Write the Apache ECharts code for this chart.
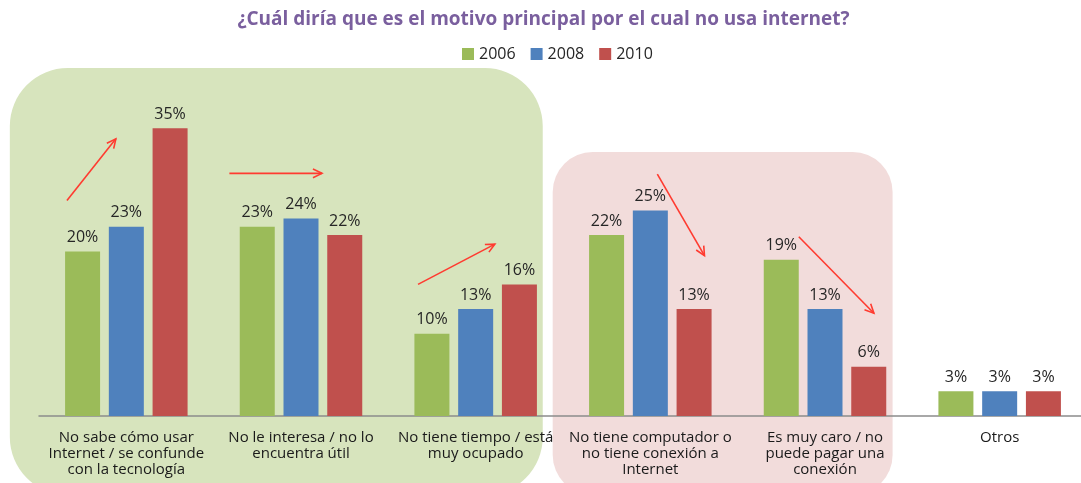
<!DOCTYPE html>
<html>
<head>
<meta charset="utf-8">
<script src="https://cdn.jsdelivr.net/npm/echarts@6/dist/echarts.min.js"></script>
<style>
  html, body { margin: 0; padding: 0; background: #fff; overflow: hidden; }
  #main { width: 1087px; height: 483px; }
</style>
</head>
<body>
<div id="main"></div>
<script>
// categorias y valores (%)
var categories = [
  'No sabe cómo usar\nInternet / se confunde\ncon la tecnología',
  'No le interesa / no lo\nencuentra útil',
  'No tiene tiempo / está\nmuy ocupado',
  'No tiene computador o\nno tiene conexión a\nInternet',
  'Es muy caro / no\npuede pagar una\nconexión',
  'Otros'
];
var years = ['2006', '2008', '2010'];
var v2006 = [20, 23, 10, 22, 19, 3];
var v2008 = [23, 24, 13, 25, 13, 3];
var v2010 = [35, 22, 16, 13, 6, 3];
var colors = ['#9bbb59', '#4f81bd', '#c0504d'];

// flechas de tendencia: [catDesde, valorDesde, catHasta, valorHasta]
var arrows = [
  [-0.34, 26.2, -0.06, 33.7],
  [0.59, 29.5, 1.12, 29.5],
  [1.67, 16.0, 2.11, 20.9],
  [3.04, 29.4, 3.31, 19.5],
  [3.85, 21.8, 4.28, 12.5]
];
// zonas de fondo: [catDesde, catHasta, valorTop, color, radio]
var zones = [
  [-0.667, 2.384, 42.3, '#d7e4bd', 58],
  [2.441, 4.387, 32.1, '#f2dcdb', 40]
];

var FONT = 'Open Sans';

var myChart = echarts.init(document.getElementById('main'));

function makeSeries(name, data, color) {
  return {
    name: name,
    type: 'bar',
    data: data,
    barWidth: 35,
    barGap: '25%',
    itemStyle: { color: color },
    label: {
      show: true,
      position: 'top',
      distance: 6,
      formatter: '{c}%',
      color: '#262626',
      fontFamily: FONT,
      fontSize: 16
    }
  };
}

var option = {
  backgroundColor: '#fff',
  animation: false,
  title: {
    text: '¿Cuál diría que es el motivo principal por el cual no usa internet?',
    left: 'center',
    top: 5,
    textStyle: { color: '#7a5f9e', fontFamily: FONT, fontWeight: 'bold', fontSize: 19 }
  },
  legend: {
    data: years,
    left: 457,
    top: 41,
    itemWidth: 12,
    itemHeight: 12,
    itemGap: 15,
    icon: 'rect',
    textStyle: { color: '#262626', fontFamily: FONT, fontSize: 16 }
  },
  grid: { left: 39, right: 0, top: 87, bottom: 67, containLabel: false },
  xAxis: {
    type: 'category',
    data: categories,
    axisTick: { show: false },
    axisLine: { lineStyle: { color: '#8c8c8c', width: 1.5 } },
    axisLabel: {
      interval: 0,
      margin: 14,
      color: '#1a1a1a',
      fontFamily: FONT,
      fontSize: 15,
      lineHeight: 16
    }
  },
  yAxis: {
    type: 'value',
    min: 0,
    max: 40,
    show: false,
    splitLine: { show: false }
  },
  series: [
    makeSeries(years[0], v2006, colors[0]),
    makeSeries(years[1], v2008, colors[1]),
    makeSeries(years[2], v2010, colors[2])
  ]
};
myChart.setOption(option);

// posicion en pixeles para categoria fraccional
function toPx(cat, val) {
  var a = myChart.convertToPixel({ gridIndex: 0 }, [0, val]);
  var b = myChart.convertToPixel({ gridIndex: 0 }, [1, val]);
  var step = b[0] - a[0];
  return [a[0] + cat * step, a[1]];
}

var graphics = [];
for (var z = 0; z < zones.length; z++) {
  var p1 = toPx(zones[z][0], zones[z][2]);
  var p2 = toPx(zones[z][1], 0);
  graphics.push({
    type: 'rect',
    z: -10,
    silent: true,
    shape: { x: p1[0], y: p1[1], width: p2[0] - p1[0], height: 483 + 12 - p1[1], r: zones[z][4] },
    style: { fill: zones[z][3] }
  });
}
for (var k = 0; k < arrows.length; k++) {
  var s = toPx(arrows[k][0], arrows[k][1]);
  var e = toPx(arrows[k][2], arrows[k][3]);
  var ang = Math.atan2(e[1] - s[1], e[0] - s[0]);
  var h = 10, spread = 0.45;
  graphics.push({
    type: 'polyline',
    z: 100,
    silent: true,
    shape: { points: [s, e] },
    style: { stroke: '#ff3b30', lineWidth: 1.6 }
  });
  graphics.push({
    type: 'polyline',
    z: 100,
    silent: true,
    shape: {
      points: [
        [e[0] - h * Math.cos(ang - spread), e[1] - h * Math.sin(ang - spread)],
        e,
        [e[0] - h * Math.cos(ang + spread), e[1] - h * Math.sin(ang + spread)]
      ]
    },
    style: { stroke: '#ff3b30', lineWidth: 1.6, fill: null }
  });
}
myChart.setOption({ graphic: graphics });
</script>
</body>
</html>
